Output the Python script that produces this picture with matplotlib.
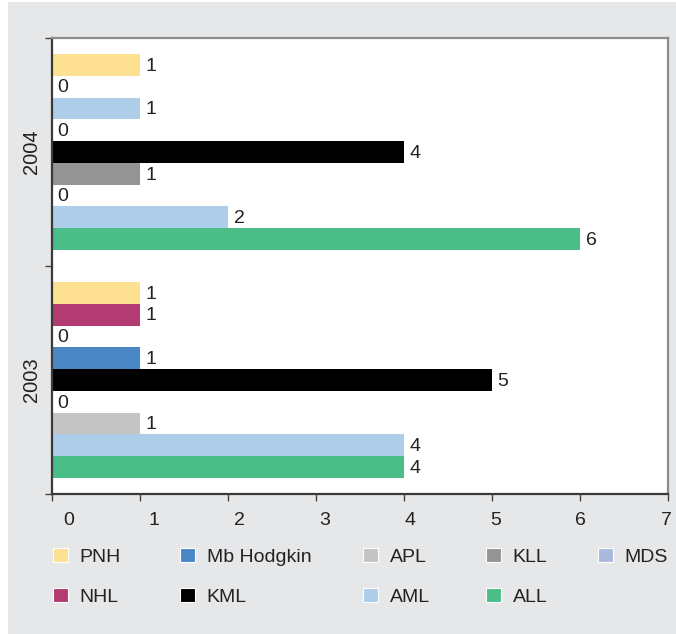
import matplotlib
matplotlib.use("Agg")
import matplotlib.pyplot as plt
from matplotlib.patches import Rectangle, Patch

plt.rcParams["font.family"] = ["Liberation Sans", "DejaVu Sans"]

# Diagnoses, bottom to top within each year group
diagnoses = ["ALL", "AML", "APL", "KLL", "KML", "Mb Hodgkin", "MDS", "NHL", "PNH"]
years = ["2003", "2004"]
values_2003 = [4, 4, 1, 0, 5, 1, 0, 1, 1]
values_2004 = [6, 2, 0, 1, 4, 0, 1, 0, 1]
x_ticks = [0, 1, 2, 3, 4, 5, 6, 7]

bar_colors = {
    "ALL": "#4bbd88", "AML": "#aecde8", "APL": "#c4c4c4", "KLL": "#949494",
    "KML": "#000000", "Mb Hodgkin": "#4a87c6", "MDS": "#aecde8",
    "NHL": "#b43b72", "PNH": "#fee092",
}
legend_colors = dict(bar_colors, MDS="#abb9de")
legend_columns = [["PNH", "NHL"], ["Mb Hodgkin", "KML"], ["APL", "AML"],
                  ["KLL", "ALL"], ["MDS"]]

W, H = 676, 634
fig = plt.figure(figsize=(W / 100, H / 100), dpi=100)
fig.patch.set_facecolor("white")
fig.patches.append(Rectangle((8 / W, 0), 1 - 8 / W, 1 - 2 / H,
                             transform=fig.transFigure, facecolor="#e6e7e9",
                             edgecolor="none", zorder=-1))

ax = fig.add_axes([52 / W, (H - 494) / H, (668 - 52) / W, (494 - 38) / H])
ax.set_facecolor("white")

text_color = "#222222"
bar_h = 0.0956
series_by_year = [values_2003, values_2004]
for gi, vals in enumerate(series_by_year):
    for k, (name, v) in enumerate(zip(diagnoses, vals)):
        y = gi + (k - (len(diagnoses) - 1) / 2) * bar_h
        ax.barh(y, v, height=bar_h, color=bar_colors[name], linewidth=0)
        ax.annotate(str(v), xy=(v, y), xytext=(4, -1), textcoords="offset points",
                    ha="left", va="center", fontsize=14, color=text_color)

ax.set_xlim(0, 7)
ax.set_ylim(-0.5, 1.5)

# Major ticks marked without labels; labels sit on their own evenly spread positions
ax.set_xticks(x_ticks)
ax.set_xticklabels([])
label_pos = [(17 + i * 85.3) / 88 for i in range(len(x_ticks))]
ax.set_xticks(label_pos, minor=True)
ax.set_xticklabels([str(t) for t in x_ticks], minor=True, fontsize=14,
                   color=text_color)
ax.tick_params(axis="x", which="major", direction="out", length=5, width=1,
               color="#444444")
ax.tick_params(axis="x", which="minor", length=0, pad=13)

ax.set_yticks([-0.5, 0.5, 1.5])
ax.set_yticklabels([])
ax.set_yticks([0, 1], minor=True)
ax.set_yticklabels(years, minor=True, rotation=90, va="center", fontsize=14.5,
                   color=text_color)
ax.tick_params(axis="y", which="major", direction="out", length=5, width=1,
               color="#444444")
ax.tick_params(axis="y", which="minor", length=0, pad=8)

for side in ("left", "bottom"):
    ax.spines[side].set_color("#3a3a3a")
    ax.spines[side].set_linewidth(1.6)
for side in ("top", "right"):
    ax.spines[side].set_color("#8c8c8c")
    ax.spines[side].set_linewidth(1.6)

# Legend laid out as five columns
col_x = [53, 180, 363, 486, 598]
for cx, names in zip(col_x, legend_columns):
    handles = [Patch(facecolor=legend_colors[n], edgecolor="white", linewidth=0.8)
               for n in names]
    fig.legend(handles, names, loc="upper left",
               bbox_to_anchor=(cx / W, 1 - 548 / H), frameon=False,
               fontsize=14, labelcolor=text_color, borderpad=0, borderaxespad=0,
               handlelength=0.78, handleheight=0.7, handletextpad=0.6,
               labelspacing=1.15)

fig.savefig("out.png", dpi=100)
